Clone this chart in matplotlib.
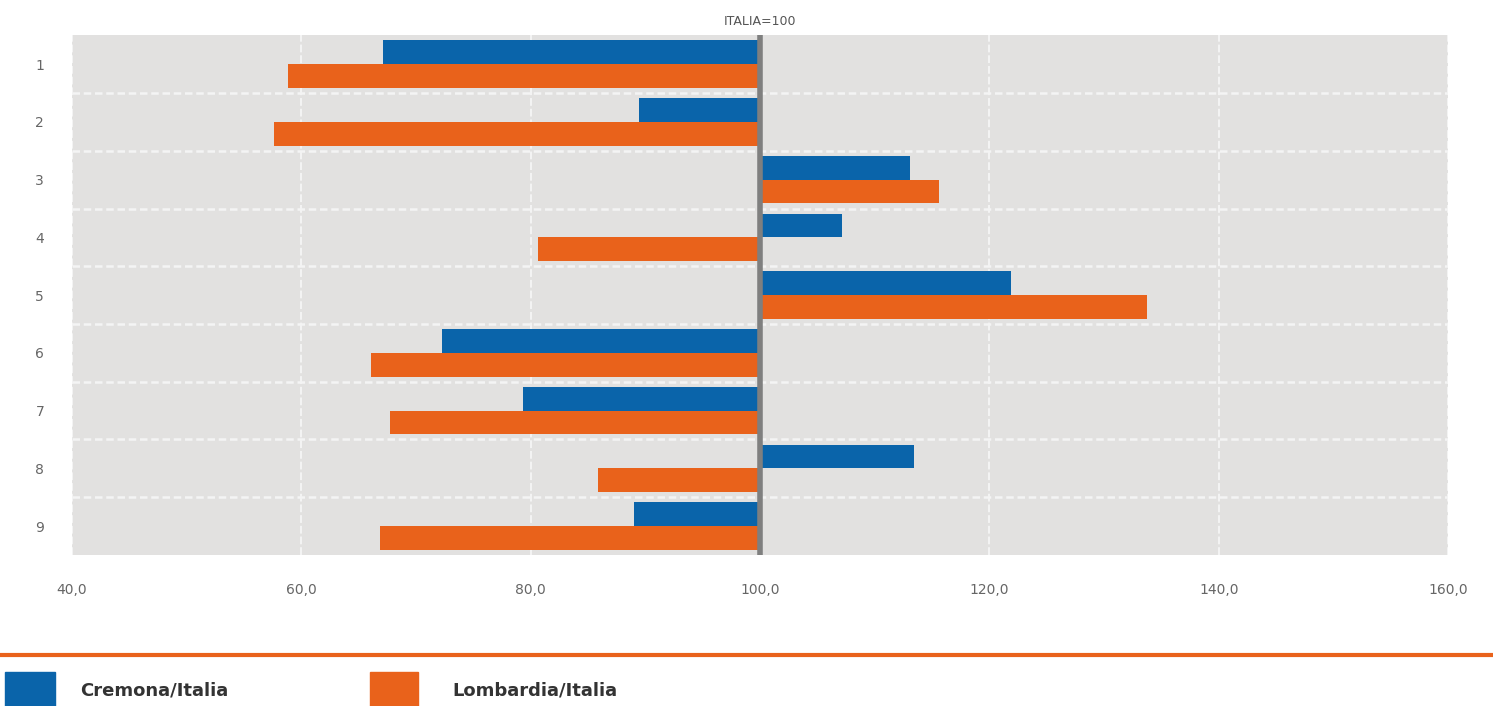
import matplotlib.pyplot as plt
from matplotlib.patches import Rectangle
from matplotlib.lines import Line2D
from matplotlib.ticker import FuncFormatter
import numpy as np

categories = ['1', '2', '3', '4', '5', '6', '7', '8', '9']
cremona = [67.1, 89.4, 113.1, 107.1, 121.9, 72.3, 79.3, 113.4, 89.0]
lombardia = [58.8, 57.6, 115.6, 80.6, 133.7, 66.1, 67.7, 85.9, 66.9]
series_names = ['Cremona/Italia', 'Lombardia/Italia']
base = 100

blue = '#0A64AA'
orange = '#E9621B'
bg = '#E2E1E0'

fig = plt.figure(figsize=(14.93, 7.06), dpi=100)
ax = fig.add_axes([0.0482, 0.214, 0.9218, 0.736])
ax.set_facecolor(bg)

y = np.arange(1, len(categories) + 1)
h = 0.41
ax.barh(y - 0.205, np.array(cremona) - base, left=base, height=h, color=blue, zorder=3)
ax.barh(y + 0.205, np.array(lombardia) - base, left=base, height=h, color=orange, zorder=3)

ax.axvline(base, color='#7F7F7F', lw=4, zorder=4)

ax.set_xlim(40, 160)
ax.set_ylim(9.5, 0.5)
ax.set_xticks(np.arange(40, 161, 20))
ax.xaxis.set_major_formatter(FuncFormatter(lambda v, p: f'{v:.1f}'.replace('.', ',')))
ax.set_yticks(y)
ax.set_yticklabels(categories)
ax.set_yticks(np.arange(1.5, 9.5, 1), minor=True)

ax.grid(axis='x', which='major', color='#F4F4F4', ls=(0, (4, 1.5)), lw=1.4, zorder=1)
ax.grid(axis='y', which='minor', color='#F4F4F4', ls=(0, (3, 1.5)), lw=1.8, zorder=1)
ax.tick_params(axis='both', which='both', length=0, labelsize=10, labelcolor='#666666')
ax.tick_params(axis='x', pad=20)
ax.tick_params(axis='y', pad=20)
for s in ax.spines.values():
    s.set_visible(False)

ax.text(base, 1.015, 'ITALIA=100', transform=ax.get_xaxis_transform(),
        ha='center', va='bottom', fontsize=9, color='#555555')

# legend band at the bottom
fig.add_artist(Line2D([0, 1], [0.0722, 0.0722], color=orange, lw=3, transform=fig.transFigure))
fig.patches.append(Rectangle((5 / 1493, 0), 50 / 1493, 34 / 706, color=blue,
                             transform=fig.transFigure, figure=fig))
fig.patches.append(Rectangle((370 / 1493, 0), 48 / 1493, 34 / 706, color=orange,
                             transform=fig.transFigure, figure=fig))
fig.text(80 / 1493, 0.022, series_names[0], fontsize=13, fontweight='bold', color='#333333',
         family=['Liberation Sans Narrow', 'DejaVu Sans'], va='center')
fig.text(452 / 1493, 0.022, series_names[1], fontsize=13, fontweight='bold', color='#333333',
         family=['Liberation Sans Narrow', 'DejaVu Sans'], va='center')

fig.savefig('out.png', dpi=100)
